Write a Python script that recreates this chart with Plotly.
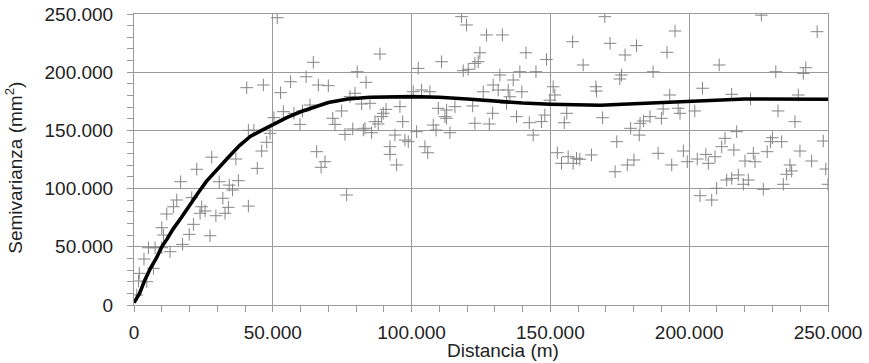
import plotly.graph_objects as go

# Experimental semivariogram points (distance in m, semivariance in mm^2)
pts_x = [
    41200, 43200, 41200, 28000, 22600, 36700, 16800, 30700, 34300, 37600, 35500, 20800, 15400,
    14200, 11800, 32000, 24400, 25600, 23800, 34000, 32800, 29500, 21400, 19900, 27400, 17500,
    10000, 10600, 13000, 5200, 7600, 10000, 3600, 7000, 1900, 4600, 1600, 1000, 40600, 46600,
    44400, 46000, 47800, 49000,
    51600, 64600, 80400, 56400, 62000, 66400, 70000, 83600, 52800, 79600, 82000, 63400, 53800,
    57600, 60700, 50400, 74800, 71600, 72400, 59800, 76000, 78800, 82600, 65800, 68800, 67400,
    76600, 77800, 85000, 86800, 88000, 83200, 85600, 88600, 89200, 90800,
    118000, 119800, 127000, 132700, 124600, 110800, 124000, 122800, 102400, 118600, 120400,
    129400, 125800, 103600, 106600, 100600, 95800, 115600, 109600, 112600, 122000, 112000,
    112600, 129200, 96800, 107800, 108800, 122800, 128000, 94000, 101800, 113800, 97600, 98800,
    92200, 92200, 104800, 105800, 94600, 89800,
    131200, 134800, 139700, 135400, 134200, 136600, 139000, 131800, 141200, 144800, 148600,
    151000, 151600, 149800, 158000, 161800, 166400, 166600, 169600, 137800, 148000, 146800,
    155900, 155000, 142400, 143800, 152500, 154000, 156400, 159400, 160600, 164800, 158200,
    168800,
    171500, 181000, 176900, 192000, 194900, 175600, 175000, 187000, 210800, 204800, 193000,
    190600, 196000, 196700, 202000, 185900, 183500, 182300, 190000, 178900, 182000, 173900,
    188800, 197900, 180100, 177700, 193700, 199300, 173300, 202900, 206000, 206900, 209300,
    212900, 211700, 213500, 209900, 203900, 208100,
    226000, 246100, 231200, 241100, 242000, 215300, 222100, 239300, 232000, 238100, 217100,
    230000, 229300, 233300, 248300, 216100, 223100, 223700, 220100, 228100, 239900, 244100,
    236300, 236900, 235100, 233900, 249200, 250000, 217700, 219500, 221300, 215300, 226700,
]
pts_y = [
    150000, 150300, 85000, 127000, 116600, 125400, 105900, 105900, 103000, 106800, 98800, 92200, 90200,
    84400, 78200, 91700, 84400, 80800, 78800, 83900, 78800, 76700, 69300, 60700, 59500, 52100,
    66400, 60100, 45800, 49200, 49200, 49200, 39500, 31500, 27200, 20000, 20600, 8600, 186700, 189000,
    117400, 132300, 139800, 147500,
    246800, 208500, 200400, 191800, 196100, 189000, 188400, 191300, 182400, 181900, 172700, 171800, 166100,
    164700, 166700, 160900, 166700, 160400, 155200, 155200, 146600, 151200, 150300, 131700, 123100, 118300,
    94500, 179000, 173300, 157500, 155500, 151800, 148000, 215600, 161800, 168100,
    247700, 240600, 232000, 232000, 216700, 209000, 209000, 207600, 203300, 201300, 202500,
    189000, 183200, 184700, 183200, 183200, 170400, 170400, 169000, 167500, 171000, 161800,
    160400, 164700, 157500, 154600, 150300, 156100, 155500, 146000, 148900, 148000, 141700, 140300,
    136000, 129400, 136000, 130800, 120300, 164700,
    184700, 184700, 183200, 178900, 173300, 193300, 200400, 197600, 216700, 200400, 211000,
    187500, 180400, 176000, 226200, 206200, 187500, 183800, 247700, 161800, 163200, 157500,
    164700, 156600, 156600, 146000, 130800, 121700, 127400, 126000, 125200, 128900, 121700,
    160900,
    224800, 222800, 214800, 217100, 235400, 197600, 194200, 200400, 206200, 186200, 180400,
    168400, 169000, 164700, 166700, 161800, 158100, 156100, 160400, 151800, 146000, 140300,
    130300, 132300, 124600, 120300, 120300, 123100, 114500, 125400, 129400, 121700, 127400,
    143200, 136000, 107400, 100300, 93900, 90200,
    249000, 234800, 200400, 199000, 203900, 181000, 177000, 180400, 166700, 157500, 148900,
    143700, 140300, 140300, 140900, 133200, 130300, 123100, 123700, 131700, 132300, 123700,
    120300, 115100, 112300, 103700, 116800, 103700, 111700, 103700, 107400, 108800, 99400,
]

# Fitted model curve
curve_x = [0, 2000, 4000, 6000, 8000, 10000, 12000, 14000, 17000, 20000, 23000, 26000, 30000,
           34000, 38000, 42000, 46000, 50000, 55000, 60000, 65000, 70000, 77000, 85000, 100000,
           110000, 120000, 128000, 140000, 150000, 160000, 168000, 176000, 190000, 206000,
           220000, 250000]
curve_y = [2000, 10000, 22000, 32000, 40000, 50000, 57000, 65000, 75000, 86000, 96000, 106000,
           117000, 127000, 137000, 145000, 150000, 155000, 161000, 166000, 170000, 174000,
           177000, 178500, 179000, 178500, 177000, 175500, 173500, 172500, 171800, 171600,
           172500, 174000, 175300, 177000, 176800]

tick_vals = [0, 50000, 100000, 150000, 200000, 250000]
tick_text = ["0", "50.000", "100.000", "150.000", "200.000", "250.000"]

x_title = "Distancia (m)"
y_title = "Semivarianza (mm<sup>2</sup>)"

GREY = "#9a9a9a"

fig = go.Figure()
fig.add_trace(go.Scatter(
    x=pts_x, y=pts_y, mode="markers",
    marker=dict(symbol="cross-thin-open", size=9, color="#858585",
                line=dict(width=1, color="#858585")),
    hoverinfo="skip",
))
fig.add_trace(go.Scatter(
    x=curve_x, y=curve_y, mode="lines",
    line=dict(color="black", width=3.6),
    hoverinfo="skip",
))

axis_common = dict(
    range=[0, 250000], tickvals=tick_vals, ticktext=tick_text,
    ticks="outside", ticklen=6, tickcolor=GREY, tickwidth=1,
    showline=True, linecolor=GREY, linewidth=1, mirror=True,
    showgrid=True, gridcolor=GREY, gridwidth=1, zeroline=False,
    automargin=False,
    tickfont=dict(size=19, color="#222"),
    minor=dict(dtick=10000, tick0=0, ticks="outside", ticklen=6,
               tickcolor=GREY, tickwidth=1, showgrid=False),
)
fig.update_xaxes(**axis_common, ticklabelstandoff=4)
fig.update_yaxes(**axis_common, ticklabelstandoff=10)

fig.update_layout(
    width=869, height=363,
    margin=dict(l=134, r=41, t=14, b=58),
    plot_bgcolor="white", paper_bgcolor="white",
    showlegend=False,
    font=dict(family="Liberation Sans, Arial, sans-serif", size=19, color="#222"),
    annotations=[
        dict(text=x_title, xref="paper", yref="paper", x=0.531, y=-0.158,
             xanchor="center", yanchor="middle", showarrow=False,
             font=dict(size=19, color="#222")),
        dict(text=y_title, xref="paper", yref="paper", x=-0.174, y=0.4725,
             xanchor="center", yanchor="middle", showarrow=False, textangle=-90,
             font=dict(size=19, color="#222")),
    ],
)

fig.write_html("out.html", config={"displayModeBar": False},
               post_script="document.body.style.margin='0';")
